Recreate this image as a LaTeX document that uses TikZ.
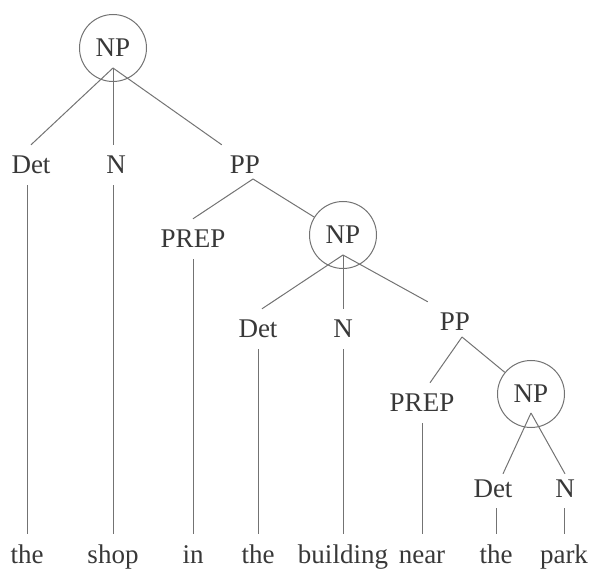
\documentclass[tikz,border=0pt]{standalone}
\usepackage{fontspec}
\setmainfont{Liberation Serif}
\usetikzlibrary{positioning}

\begin{document}
\begin{tikzpicture}[
    x=1pt, y=-1pt,
    cat/.style={inner sep=0pt, text height=18pt, text depth=0pt, minimum height=40pt, font=\fontsize{27}{31}\selectfont, text=black!78},
    word/.style={cat},
    phrase/.style={cat, circle, draw=black!55, line width=1pt, minimum size=67pt},
    branch/.style={draw=black!55, line width=1pt}
]
\useasboundingbox (0,0) rectangle (595,569);

% phrase heads
\node[phrase] (np1) at (113,48) {NP};
\node[cat] (pp1) at (245,165) {PP};
\node[phrase] (np2) at (343,235) {NP};
\node[cat] (pp2) at (455,322) {PP};
\node[phrase] (np3) at (531,394) {NP};

% categories
\node[cat] (det1) at (31,165) {Det};
\node[cat] (n1) at (116,165) {N};
\node[cat] (prep1) at (193,239) {PREP};
\node[cat] (det2) at (258,329) {Det};
\node[cat] (n2) at (343,329) {N};
\node[cat] (prep2) at (422,403) {PREP};
\node[cat] (det3) at (493,488) {Det};
\node[cat] (n3) at (565,488) {N};

% words
\node[word] (w1) at (27,554) {the};
\node[word] (w2) at (113,554) {shop};
\node[word] (w3) at (193,554) {in};
\node[word] (w4) at (258,554) {the};
\node[word] (w5) at (343,554) {building};
\node[word] (w6) at (422,554) {near};
\node[word] (w7) at (496,554) {the};
\node[word] (w8) at (564,554) {park};

% branch points
\coordinate (np1f) at ([yshift=-20pt]np1.center);
\coordinate (pp1f) at ([xshift=8pt, yshift=-14pt]pp1.center);
\coordinate (np2f) at ([yshift=-20pt]np2.center);
\coordinate (pp2f) at ([xshift=7pt, yshift=-15pt]pp2.center);
\coordinate (np3f) at ([yshift=-19pt]np3.center);

\draw[branch] (np1f) -- (det1.north);
\draw[branch] (np1f) -- (n1.north -| np1f);
\draw[branch] (np1f) -- ([xshift=-8pt]pp1.north west);
\draw[branch] (pp1f) -- (prep1.north);
\draw[branch] (pp1f) -- (np2);
\draw[branch] (np2f) -- ([xshift=4pt]det2.north);
\draw[branch] (np2f) -- (n2.north);
\draw[branch] (np2f) -- ([xshift=-12pt]pp2.north west);
\draw[branch] (pp2f) -- ([xshift=8pt]prep2.north);
\draw[branch] (pp2f) -- (np3);
\draw[branch] (np3f) -- ([xshift=10pt, yshift=-6pt]det3.north);
\draw[branch] (np3f) -- ([yshift=-6pt]n3.north);

% down to the words
\draw[branch] (w1.north |- det1.south) -- (w1.north);
\draw[branch] (w2.north |- n1.south) -- (w2.north);
\draw[branch] (w3.north |- prep1.south) -- (w3.north);
\draw[branch] (w4.north |- det2.south) -- (w4.north);
\draw[branch] (w5.north |- n2.south) -- (w5.north);
\draw[branch] (w6.north |- prep2.south) -- (w6.north);
\draw[branch] (w7.north |- det3.south) -- (w7.north);
\draw[branch] (w8.north |- n3.south) -- (w8.north);
\end{tikzpicture}
\end{document}
